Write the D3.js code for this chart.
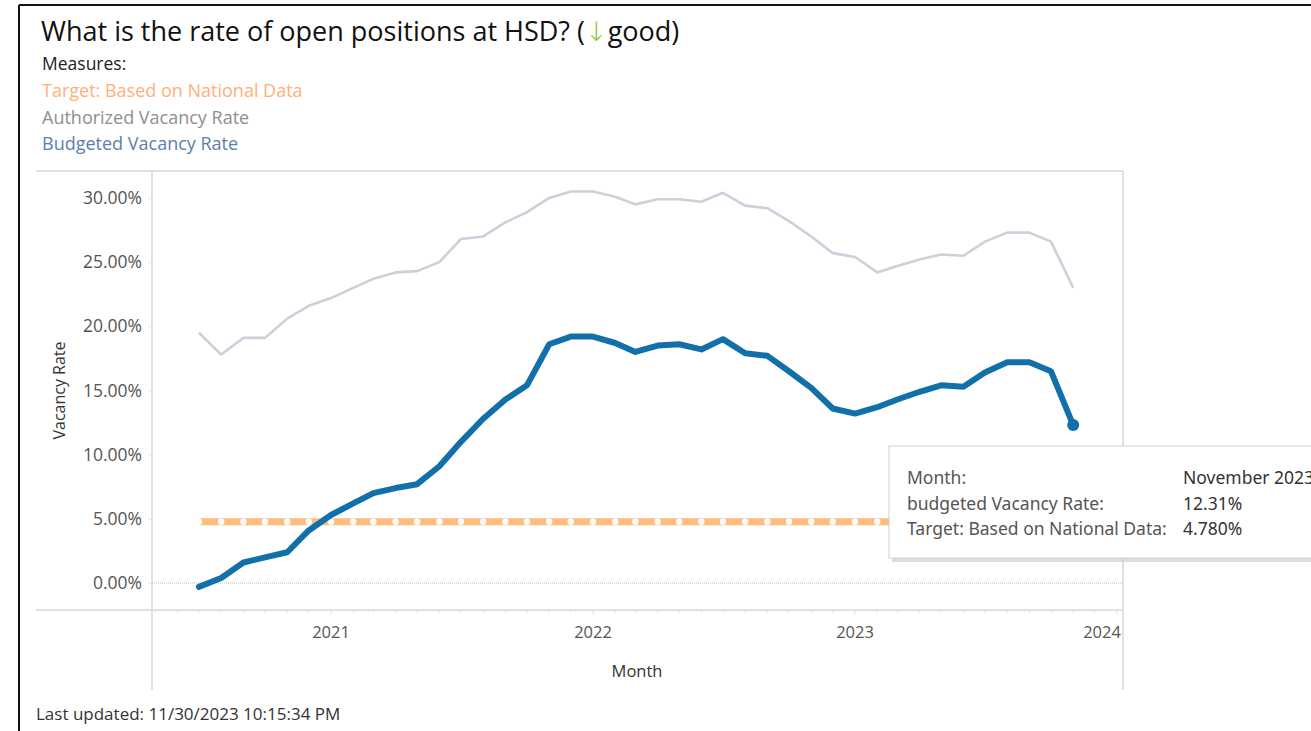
<!DOCTYPE html>
<html>
<head>
<meta charset="utf-8">
<script src="https://cdn.jsdelivr.net/npm/d3@7"></script>
<style>
  body { margin: 0; background: #fff; }
  svg { display: block; font-family: "Open Sans", "Noto Sans", sans-serif; }
</style>
</head>
<body>
<div id="chart"></div>
<script>
// months Jul 2020 .. Nov 2023
const startMonth = new Date(2020, 6, 1);
const monthCount = 41;
const months = d3.range(monthCount).map(i => d3.timeMonth.offset(startMonth, i));

// values in percent
const authorizedRate = [19.5, 17.8, 19.1, 19.1, 20.6, 21.6,
  22.2, 23.0, 23.7, 24.2, 24.3, 25.0, 26.8, 27.0, 28.1, 28.9, 30.0, 30.5,
  30.5, 30.1, 29.5, 29.9, 29.9, 29.7, 30.4, 29.4, 29.2, 28.2, 27.0, 25.7,
  25.4, 24.2, 24.7, 25.2, 25.6, 25.5, 26.6, 27.3, 27.3, 26.6, 23.0];
const budgetedRate = [-0.3, 0.4, 1.6, 2.0, 2.4, 4.1,
  5.3, 6.2, 7.0, 7.4, 7.7, 9.1, 11.0, 12.8, 14.3, 15.4, 18.6, 19.2,
  19.2, 18.7, 18.0, 18.5, 18.6, 18.2, 19.0, 17.9, 17.7, 16.5, 15.2, 13.6,
  13.2, 13.7, 14.3, 14.9, 15.4, 15.3, 16.4, 17.2, 17.2, 16.5, 12.31];
const targetRate = 4.78;

const yTicks = [0, 5, 10, 15, 20, 25, 30];
const xTickYears = [2021, 2022, 2023, 2024];

const legendItems = [
  {label: "Target: Based on National Data", color: "#ffb07a"},
  {label: "Authorized Vacancy Rate", color: "#8e8e8e"},
  {label: "Budgeted Vacancy Rate", color: "#5a80ab"}
];

const tooltipRows = [
  ["Month:", "November 2023"],
  ["budgeted Vacancy Rate:", "12.31%"],
  ["Target: Based on National Data:", "4.780%"]
];

const w = 1311, h = 731;
// pane edges
const pane = {left: 152, right: 1123, top: 171, bottom: 610};

const svg = d3.select("#chart").append("svg")
  .attr("width", w).attr("height", h);

// dashboard border (left + top)
svg.append("line").attr("x1", 19).attr("x2", 19).attr("y1", 5).attr("y2", h)
  .attr("stroke", "#111").attr("stroke-width", 2);
svg.append("line").attr("x1", 19).attr("x2", w).attr("y1", 5).attr("y2", 5)
  .attr("stroke", "#111").attr("stroke-width", 2);

// title
const title = svg.append("text").attr("x", 41).attr("y", 41)
  .attr("font-size", 27).attr("fill", "#111");
title.append("tspan").text("What is the rate of open positions at HSD? (");
title.append("tspan").attr("fill", "#8cc63e").attr("font-family", "DejaVu Sans").attr("font-weight", 300).text("\u2193");
title.append("tspan").text("good)");

svg.append("text").attr("x", 42).attr("y", 70).attr("font-size", 17.5)
  .attr("fill", "#222").text("Measures:");

svg.selectAll(".legend-item")
  .data(legendItems)
  .join("text")
  .attr("class", "legend-item")
  .attr("x", 42)
  .attr("y", (d, i) => 97 + i * 26.5)
  .attr("font-size", 18)
  .attr("fill", d => d.color)
  .text(d => d.label);

// scales
const x = d3.scaleTime()
  .domain([new Date(2021, 0, 1), new Date(2024, 0, 1)])
  .range([331, 1117]);
const y = d3.scaleLinear()
  .domain([-2.1, 32.1])
  .range([pane.bottom, pane.top]);

// frame lines
const frame = "#d6d6d6";
svg.append("line").attr("x1", 36).attr("x2", pane.right).attr("y1", pane.top).attr("y2", pane.top)
  .attr("stroke", frame).attr("stroke-width", 1.5);
svg.append("line").attr("x1", 36).attr("x2", pane.right).attr("y1", pane.bottom).attr("y2", pane.bottom)
  .attr("stroke", frame).attr("stroke-width", 1.5);
svg.append("line").attr("x1", pane.left).attr("x2", pane.left).attr("y1", pane.top).attr("y2", 690)
  .attr("stroke", frame).attr("stroke-width", 1.5);
svg.append("line").attr("x1", pane.right).attr("x2", pane.right).attr("y1", pane.top).attr("y2", 690)
  .attr("stroke", frame).attr("stroke-width", 1.5);

// zero line
svg.append("line").attr("x1", pane.left).attr("x2", pane.right)
  .attr("y1", y(0)).attr("y2", y(0))
  .attr("stroke", "#bdbdbd").attr("stroke-width", 1).attr("stroke-dasharray", "1,1");

// y axis
const yAxis = svg.append("g").attr("transform", `translate(${pane.left},0)`)
  .call(d3.axisLeft(y).tickValues(yTicks).tickSize(4).tickPadding(6)
    .tickFormat(d => d3.format(".2f")(d) + "%"));
yAxis.select(".domain").remove();
yAxis.selectAll("line").attr("stroke", "#e6e6e6");
yAxis.selectAll("text").attr("font-size", 17.5).attr("fill", "#555")
  .attr("font-family", "Open Sans, sans-serif");

svg.append("text")
  .attr("transform", `translate(65,${(y(0) + y(30)) / 2}) rotate(-90)`)
  .attr("text-anchor", "middle").attr("font-size", 16).attr("fill", "#333")
  .text("Vacancy Rate");

// x axis: monthly minor ticks + year labels
const minorTicks = d3.timeMonth.range(new Date(2020, 4, 1), new Date(2024, 0, 2));
svg.append("g").selectAll("line")
  .data(minorTicks)
  .join("line")
  .attr("x1", d => x(d)).attr("x2", d => x(d))
  .attr("y1", pane.bottom).attr("y2", d => pane.bottom + (d.getMonth() === 0 ? 5 : 3))
  .attr("stroke", "#e3e3e3");

svg.append("g").selectAll("text")
  .data(xTickYears)
  .join("text")
  .attr("x", d => Math.min(x(new Date(d, 0, 1)), pane.right - 21))
  .attr("y", 638)
  .attr("text-anchor", "middle")
  .attr("font-size", 16.5)
  .attr("fill", "#555")
  .text(d => d);

svg.append("text").attr("x", 637).attr("y", 677).attr("text-anchor", "middle")
  .attr("font-size", 16.5).attr("fill", "#333").attr("font-weight", 500).text("Month");

// target line
const target = svg.append("g");
target.append("line")
  .attr("x1", x(months[0])).attr("x2", x(months[monthCount - 1]))
  .attr("y1", y(targetRate)).attr("y2", y(targetRate))
  .attr("stroke", "#ffbc7c").attr("stroke-width", 7);
target.selectAll("circle")
  .data(months)
  .join("circle")
  .attr("cx", d => x(d)).attr("cy", y(targetRate)).attr("r", 3.2)
  .attr("fill", "#fff");

// authorized line
const lineAuth = d3.line().x((d, i) => x(months[i])).y(d => y(d));
svg.append("path").datum(authorizedRate)
  .attr("d", lineAuth)
  .attr("fill", "none").attr("stroke", "#c9d1da").attr("stroke-width", 2.6)
  .attr("stroke-linejoin", "round");

// budgeted line
svg.append("path").datum(budgetedRate)
  .attr("d", lineAuth)
  .attr("fill", "none").attr("stroke", "#1170aa").attr("stroke-width", 6)
  .attr("stroke-linejoin", "round").attr("stroke-linecap", "round");
svg.append("circle")
  .attr("cx", x(months[monthCount - 1])).attr("cy", y(budgetedRate[monthCount - 1]))
  .attr("r", 6).attr("fill", "#1170aa");

// tooltip
const tip = svg.append("g").attr("transform", "translate(889,446)");
tip.append("rect").attr("x", 3).attr("y", 3).attr("width", 440).attr("height", 113)
  .attr("fill", "#c8c8c8").attr("opacity", 0.6);
tip.append("rect").attr("x", 0).attr("y", 0).attr("width", 440).attr("height", 112)
  .attr("fill", "#fff").attr("stroke", "#d0d0d0");
tooltipRows.forEach((r, i) => {
  tip.append("text").attr("x", 18).attr("y", 38 + i * 25.5)
    .attr("font-size", 17.5).attr("fill", "#555").attr("font-family", "Noto Sans, sans-serif")
    .text(r[0]);
  tip.append("text").attr("x", 294).attr("y", 38 + i * 25.5)
    .attr("font-size", 17.5).attr("fill", "#333").attr("font-family", "Noto Sans, sans-serif")
    .text(r[1]);
});

svg.append("text").attr("x", 36).attr("y", 720).attr("font-size", 17)
  .attr("fill", "#333").text("Last updated: 11/30/2023 10:15:34 PM");
</script>
</body>
</html>
